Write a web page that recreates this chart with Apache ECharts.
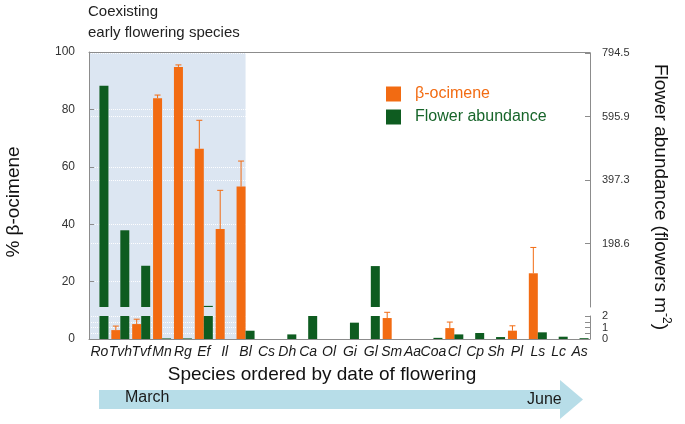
<!DOCTYPE html>
<html><head><meta charset="utf-8">
<script src="https://cdn.jsdelivr.net/npm/echarts@6/dist/echarts.min.js"></script>
<style>html,body{margin:0;padding:0;background:#fff}#c{width:685px;height:424px}</style>
</head><body><div id="c"></div>
<script>
// ---- data ----
const categories = ['Ro','Tvh','Tvf','Mn','Rg','Ef','Il','Bl','Cs','Dh','Ca','Ol','Gi','Gl','Sm','Aa','Coa','Cl','Cp','Sh','Pl','Ls','Lc','As'];
// % beta-ocimene (mean) and its error (upper whisker length)
const ocimene   = [null, 3.1, 5.2, 83.9, 94.8, 66.3, 38.3, 53.1, null, null, null, null, null, null, 7.3, null, null, 3.8, null, null, 2.9, 22.9, null, null];
const ocimeneSE = [null, 1.4, 1.7,  1.1,  0.7,  9.9, 13.5,  8.9, null, null, null, null, null, null, 2.0, null, null, 2.1, null, null, 1.7,  9.0, null, null];
// flower abundance (flowers m^-2)
const abundance = [692, 240, 129, 0.05, 0.05, 3.5, null, 0.72, null, 0.4, 2, null, 1.42, 128, null, null, 0.1, 0.4, 0.52, 0.17, null, 0.58, 0.2, 0.07];
// axes
const leftTickInterval = 20;
const upperAbundanceMax = 794.5;
const upperAbundanceTicks = [198.625, 397.25, 595.875, 794.5];
const lowerAbundanceMax = 2;
const lowerTickInterval = 0.5;
const shadedSpan = ['Ro', 'Bl'];

// ---- styles ----
const FONT = "'Liberation Sans', Arial, sans-serif";
const NARROW = "'Liberation Sans Narrow', 'Liberation Sans', Arial, sans-serif";
const ORANGE = '#F26B12';
const GREEN = '#0E5C20';
const AXIS = '#8c8c8c';
const BARW = 9;
const dotted = { show: true, lineStyle: { color: 'rgba(255,255,255,0.95)', type: 'dotted', width: 1 } };

const dash = v => (v == null ? '-' : v);
const upperVals = abundance.map(v => (v != null && v > lowerAbundanceMax) ? v : '-');
const lowerVals = abundance.map(v => v == null ? '-' : Math.min(v, lowerAbundanceMax));
const spacer = categories.map(() => '-');
const errData = [];
ocimene.forEach((v, i) => { if (v != null && ocimeneSE[i] != null) errData.push([i, v, v + ocimeneSE[i]]); });

const chart = echarts.init(document.getElementById('c'), null, { renderer: 'canvas' });
chart.setOption({
  backgroundColor: '#fff',
  animation: false,
  textStyle: { fontFamily: FONT },
  grid: [
    { left: 89, right: 95, top: 52, bottom: 85 },
    { left: 89, right: 95, top: 53, bottom: 117 },
    { left: 89, right: 95, top: 316, bottom: 85 }
  ],
  xAxis: [
    { gridIndex: 0, type: 'category', data: categories, z: 1.5,
      axisLine: { lineStyle: { color: AXIS } }, axisTick: { show: false },
      axisLabel: { interval: 0, fontStyle: 'italic', fontSize: 14, color: '#1a1a1a', margin: 6, fontFamily: FONT } },
    { gridIndex: 1, type: 'category', data: categories, show: false },
    { gridIndex: 2, type: 'category', data: categories, show: false },
    { gridIndex: 0, type: 'category', data: categories, position: 'top', z: 1.5,
      axisLine: { lineStyle: { color: AXIS } }, axisTick: { show: false }, axisLabel: { show: false } }
  ],
  yAxis: [
    { gridIndex: 0, type: 'value', min: 0, max: 100, interval: leftTickInterval, position: 'left', z: 1.5,
      axisLine: { show: true, lineStyle: { color: AXIS } },
      axisTick: { show: true, inside: true, length: 5, lineStyle: { color: AXIS } },
      axisLabel: { fontSize: 12, color: '#333', margin: 14, fontFamily: FONT },
      splitLine: dotted },
    { gridIndex: 1, type: 'value', min: 0, max: upperAbundanceMax, interval: upperAbundanceMax / 4, position: 'right', z: 1.5,
      axisLine: { show: true, lineStyle: { color: AXIS } },
      axisTick: { show: true, inside: true, length: 5, lineStyle: { color: AXIS }, customValues: upperAbundanceTicks },
      axisLabel: { customValues: upperAbundanceTicks, formatter: v => Number(v).toFixed(1), fontSize: 11, color: '#333', margin: 12, fontFamily: NARROW },
      splitLine: dotted },
    { gridIndex: 2, type: 'value', min: 0, max: lowerAbundanceMax, interval: lowerTickInterval, position: 'right', z: 1.5,
      axisLine: { show: true, lineStyle: { color: AXIS } },
      axisTick: { show: true, inside: true, length: 5, lineStyle: { color: AXIS } },
      axisLabel: { formatter: v => (Number.isInteger(v) ? String(v) : ''), fontSize: 11, color: '#333', margin: 12, fontFamily: NARROW },
      splitLine: dotted }
  ],
  legend: {
    orient: 'vertical', left: 381, top: 81, itemWidth: 15, itemHeight: 15, itemGap: 7, icon: 'rect',
    selectedMode: false,
    textStyle: { fontSize: 16, fontFamily: FONT, lineHeight: 16, padding: [0, 0, 0, 9] },
    data: [
      { name: 'β-ocimene', textStyle: { color: ORANGE } },
      { name: 'Flower abundance', textStyle: { color: '#17652A' } }
    ]
  },
  series: [
    { type: 'custom', name: 'shade', xAxisIndex: 0, yAxisIndex: 0, z: 1, silent: true,
      data: [[categories.indexOf(shadedSpan[0]), categories.indexOf(shadedSpan[1])]],
      renderItem: (params, api) => {
        const bw = api.size([1, 0])[0];
        const p0 = api.coord([api.value(0), 100]);
        const p1 = api.coord([api.value(1), 0]);
        const x0 = p0[0] - bw / 2;
        return { type: 'rect', shape: { x: x0, y: p0[1], width: p1[0] - x0, height: p1[1] - p0[1] }, style: { fill: '#DCE6F2' } };
      } },
    { type: 'bar', name: 'β-ocimene', xAxisIndex: 0, yAxisIndex: 0, barWidth: BARW, barGap: '0%', z: 2,
      itemStyle: { color: ORANGE }, data: ocimene.map(dash) },
    { type: 'bar', name: 'spacer-main', xAxisIndex: 0, yAxisIndex: 0, barWidth: BARW, barGap: '0%', data: spacer },
    { type: 'custom', name: 'error', xAxisIndex: 0, yAxisIndex: 0, z: 3, silent: true, data: errData,
      renderItem: (params, api) => {
        const a = api.coord([api.value(0), api.value(1)]);
        const b = api.coord([api.value(0), api.value(2)]);
        const x = a[0] - BARW / 2;
        const st = { stroke: ORANGE, lineWidth: 1 };
        return { type: 'group', children: [
          { type: 'line', shape: { x1: x, y1: a[1], x2: x, y2: b[1] }, style: st },
          { type: 'line', shape: { x1: x - 3, y1: b[1], x2: x + 3, y2: b[1] }, style: st }
        ] };
      } },
    { type: 'bar', name: 'spacer-upper', xAxisIndex: 1, yAxisIndex: 1, barWidth: BARW, barGap: '0%', data: spacer },
    { type: 'bar', name: 'Flower abundance', xAxisIndex: 1, yAxisIndex: 1, barWidth: BARW, barGap: '0%', z: 2,
      itemStyle: { color: GREEN }, data: upperVals },
    { type: 'bar', name: 'spacer-lower', xAxisIndex: 2, yAxisIndex: 2, barWidth: BARW, barGap: '0%', data: spacer },
    { type: 'bar', name: 'Flower abundance', xAxisIndex: 2, yAxisIndex: 2, barWidth: BARW, barGap: '0%', z: 2,
      itemStyle: { color: GREEN }, data: lowerVals }
  ],
  graphic: [
    { type: 'polygon', z: 0, silent: true,
      shape: { points: [[99, 390], [560, 390], [560, 380], [583, 399.5], [560, 419], [560, 409], [99, 409]] },
      style: { fill: '#B7DDE8' } },
    { type: 'text', x: 125, y: 398, style: { text: 'March', font: '16px ' + FONT, fill: '#1a1a1a', verticalAlign: 'middle' } },
    { type: 'text', x: 527, y: 400, style: { text: 'June', font: '16px ' + FONT, fill: '#1a1a1a', verticalAlign: 'middle' } },
    { type: 'text', x: 322, y: 375, style: { text: 'Species ordered by date of flowering', font: '19px ' + FONT, fill: '#111', align: 'center', verticalAlign: 'middle' } },
    { type: 'text', x: 14, y: 202, rotation: Math.PI / 2, style: { text: '% β-ocimene', font: '19px ' + FONT, fill: '#111', align: 'center', verticalAlign: 'middle' } },
    { type: 'text', x: 660, y: 197, rotation: -Math.PI / 2,
      style: { text: '{a|Flower abundance (flowers m}{s|-2}{a|)}', align: 'center', verticalAlign: 'middle', fill: '#111',
        rich: { a: { fontSize: 19, fontFamily: FONT, lineHeight: 24, fill: '#111' },
                s: { fontSize: 12, fontFamily: FONT, lineHeight: 12, verticalAlign: 'top', fill: '#111' } } } },
    { type: 'text', x: 88, y: 22, style: { text: 'Coexisting\nearly flowering species', font: '15px ' + FONT, lineHeight: 21, fill: '#222', verticalAlign: 'middle' } }
  ]
});
</script>
</body></html>
